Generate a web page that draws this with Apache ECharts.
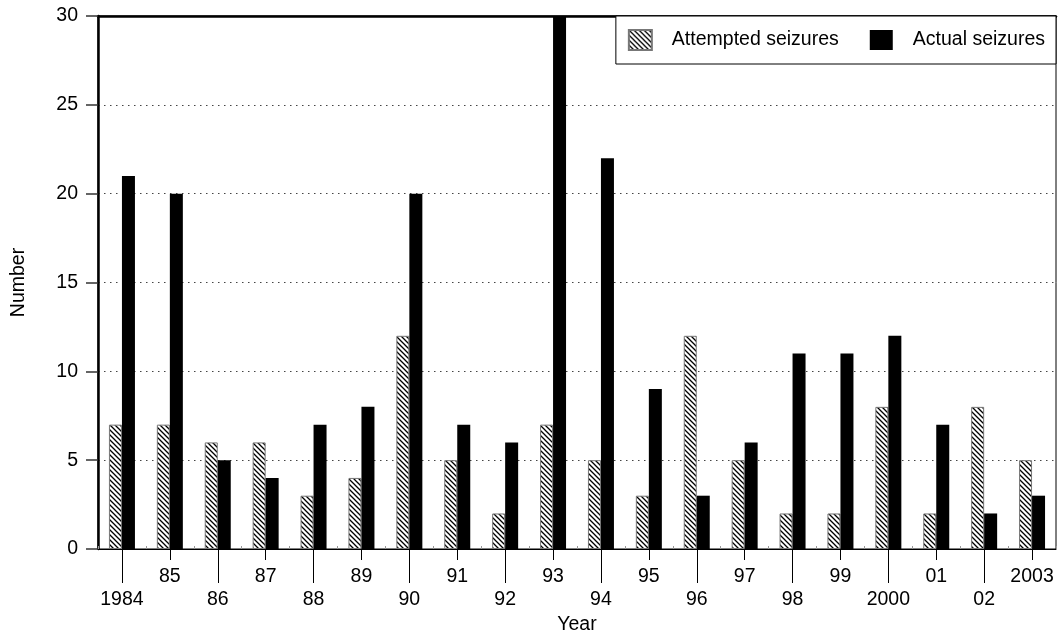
<!DOCTYPE html>
<html>
<head>
<meta charset="utf-8">
<script src="https://cdn.jsdelivr.net/npm/echarts@6/dist/echarts.min.js"></script>
<style>html,body{margin:0;padding:0;background:#fff;}#c{width:1059px;height:636px;}</style>
</head>
<body>
<div id="c"></div>
<script>
const years = ['1984','85','86','87','88','89','90','91','92','93','94','95','96','97','98','99','2000','01','02','2003'];
const attempted = [7,7,6,6,3,4,12,5,2,7,5,3,12,5,2,2,8,2,8,5];
const actual = [21,20,5,4,7,8,20,7,6,30,22,9,3,6,11,11,12,7,2,3];
const yTicks = {min:0, max:30, interval:5};

function hatch(){
  const c=document.createElement('canvas'); c.width=5; c.height=5;
  const g=c.getContext('2d');
  g.fillStyle='#fff'; g.fillRect(0,0,5,5);
  g.strokeStyle='#000'; g.lineWidth=1.3;
  g.beginPath();
  g.moveTo(0,0); g.lineTo(5,5);
  g.moveTo(-1,4); g.lineTo(1,6);
  g.moveTo(4,-1); g.lineTo(6,1);
  g.stroke();
  return c;
}
const font = '"Liberation Sans", Arial, sans-serif';
const fs = 19.5;
const chart = echarts.init(document.getElementById('c'), null, {renderer:'canvas'});
const base = {type:'category', data:years, boundaryGap:true, gridIndex:0};
chart.setOption({
  animation:false,
  backgroundColor:'#fff',
  textStyle:{fontFamily:font},
  grid:{left:98, right:3, top:16, bottom:87, show:true, borderColor:'#000', borderWidth:1, outerBoundsMode:'none', containLabel:false},
  legend:{
    top:16, right:3, orient:'horizontal',
    backgroundColor:'#fff', borderColor:'#000', borderWidth:1,
    padding:[13,11,13,12],
    itemWidth:23, itemHeight:20, itemGap:31,
    icon:'rect',
    textStyle:{fontFamily:font, fontSize:fs, color:'#000', padding:[4,0,0,15]},
    data:['Attempted seizures','Actual seizures']
  },
  xAxis:[
    Object.assign({}, base, {
      position:'bottom',
      name:'Year', nameLocation:'middle', nameGap:66,
      nameTextStyle:{fontFamily:font, fontSize:fs, color:'#000'},
      axisLine:{show:true, lineStyle:{color:'#000', width:1}},
      axisTick:{show:true, alignWithLabel:true, length:34, interval:(i)=>i%2===0, lineStyle:{color:'#000', width:1}},
      axisLabel:{interval:(i)=>i%2===0, margin:41, fontFamily:font, fontSize:fs, color:'#000'},
      splitLine:{show:false}
    }),
    Object.assign({}, base, {
      position:'bottom',
      axisLine:{show:false},
      axisTick:{show:true, alignWithLabel:true, length:11, interval:(i)=>i%2===1, lineStyle:{color:'#000', width:1}},
      axisLabel:{interval:(i)=>i%2===1, margin:18, fontFamily:font, fontSize:fs, color:'#000'},
      splitLine:{show:false}
    }),
    Object.assign({}, base, {
      position:'bottom',
      axisLine:{show:false},
      axisTick:{show:true, alignWithLabel:false, inside:true, length:3, interval:0, lineStyle:{color:'#999', width:1}},
      axisLabel:{show:false},
      splitLine:{show:false}
    }),
    Object.assign({}, base, {
      position:'top',
      axisLine:{show:true, lineStyle:{color:'#000', width:2.5}},
      axisTick:{show:false},
      axisLabel:{show:false},
      splitLine:{show:false}
    })
  ],
  yAxis:{
    type:'value', min:yTicks.min, max:yTicks.max, interval:yTicks.interval,
    name:'Number', nameLocation:'middle', nameGap:69,
    nameTextStyle:{fontFamily:font, fontSize:fs, color:'#000'},
    axisLine:{show:true, lineStyle:{color:'#000', width:2.5}},
    axisTick:{show:true, length:12, lineStyle:{color:'#333', width:1.5}},
    axisLabel:{margin:20, fontFamily:font, fontSize:fs, color:'#000'},
    splitLine:{show:true, lineStyle:{color:'#444', width:1.2, type:[1.5,4.5]}}
  },
  series:[
    {name:'Attempted seizures', type:'bar', xAxisIndex:0, data:attempted, barWidth:13, barGap:'0%',
     itemStyle:{color:{image:hatch(), repeat:'repeat'}, borderColor:'#777', borderWidth:1}},
    {name:'Actual seizures', type:'bar', xAxisIndex:0, data:actual, barWidth:13, barGap:'0%',
     itemStyle:{color:'#000'}}
  ]
});
</script>
</body>
</html>
